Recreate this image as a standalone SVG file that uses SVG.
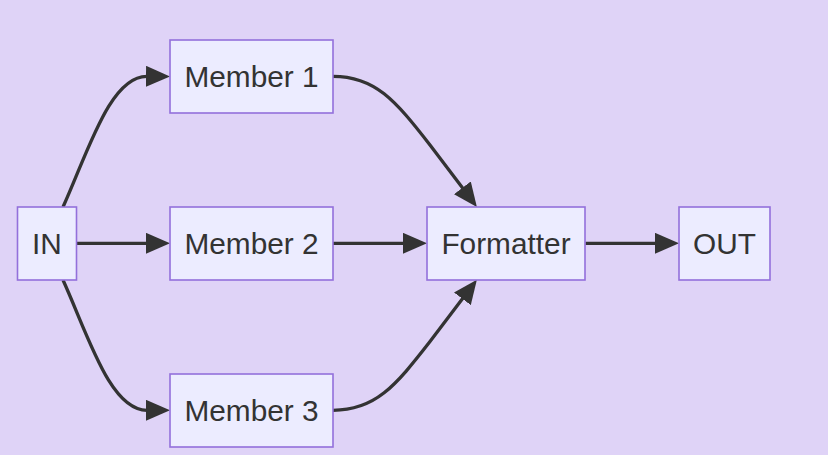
<svg xmlns="http://www.w3.org/2000/svg" width="828" height="455" viewBox="0 0 828 455">
<defs>
<style>
.node rect{fill:#ECECFF;stroke:#9370DB;stroke-width:1.6}
.node text{font-family:"Liberation Sans",Arial,sans-serif;font-size:29.8px;fill:#333;text-anchor:middle;dominant-baseline:central}
.edge{fill:none;stroke:#333;stroke-width:3.3}
</style>
<marker id="arr" viewBox="0 0 24 21" refX="1" refY="10.5" markerWidth="24" markerHeight="21" markerUnits="userSpaceOnUse" orient="auto">
<path d="M0,0 L24,10.5 L0,21 z" fill="#333"/>
</marker>
</defs>
<rect width="828" height="455" fill="#DFD3F7"/>
<g id="connectors">
<path class="edge" marker-end="url(#arr)" d="M63,207 C88,152 110,76 147,76.3"/>
<path class="edge" marker-end="url(#arr)" d="M77,243.3 L147,243.3"/>
<path class="edge" marker-end="url(#arr)" d="M63,280 C88,335 110,410.3 147,410.3"/>
<path class="edge" marker-end="url(#arr)" d="M333,76.3 C375,76.3 395,100 430,145 L463,188.6"/>
<path class="edge" marker-end="url(#arr)" d="M333,243.3 L404,243.3"/>
<path class="edge" marker-end="url(#arr)" d="M333,410.3 C375,410.3 395,386.6 430,341.6 L463,298"/>
<path class="edge" marker-end="url(#arr)" d="M585.5,243.3 L656,243.3"/>
</g>
<g id="IN" class="node"><rect x="17.5" y="207" width="59" height="73"/><text x="47" y="243.5">IN</text></g>
<g id="Member1" class="node"><rect x="170" y="40" width="163" height="73"/><text x="251.5" y="76.5">Member 1</text></g>
<g id="Member2" class="node"><rect x="170" y="207" width="163" height="73"/><text x="251.5" y="243.5">Member 2</text></g>
<g id="Member3" class="node"><rect x="170" y="374" width="163" height="73"/><text x="251.5" y="410.5">Member 3</text></g>
<g id="Formatter" class="node"><rect x="427" y="207" width="158" height="73"/><text x="506" y="243.5">Formatter</text></g>
<g id="OUT" class="node"><rect x="679" y="207" width="91" height="73"/><text x="724.5" y="243.5">OUT</text></g>
</svg>
